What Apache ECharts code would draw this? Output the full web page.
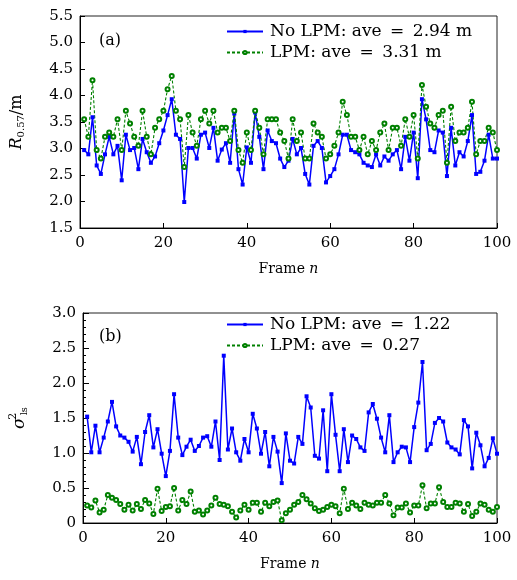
<!DOCTYPE html>
<html>
<head>
<meta charset="utf-8">
<script src="https://cdn.jsdelivr.net/npm/echarts@6/dist/echarts.min.js"></script>
<style>
  html, body { margin: 0; padding: 0; background: #fff; }
  #main { width: 517px; height: 580px; }
</style>
</head>
<body>
<div id="main"></div>
<script>
var chartDom = document.getElementById('main');
var myChart = echarts.init(chartDom);
var option;

// frame index n = 1..100
var frames = [];
for (var k = 1; k <= 100; k++) frames.push(k);

// panel (a): R_0.57 in metres
var noLpmR = [2.97, 2.89, 3.59, 2.68, 2.52, 2.89, 3.22, 2.89, 3.05, 2.40,
    3.26, 2.97, 3.01, 2.61, 3.18, 2.93, 2.73, 2.85, 3.10, 3.34,
    3.63, 3.93, 3.26, 3.18, 1.99, 3.01, 3.01, 2.81, 3.26, 3.30,
    3.01, 3.39, 2.77, 2.98, 3.10, 2.73, 3.66, 2.61, 2.32, 3.02,
    2.73, 3.68, 3.22, 2.61, 3.34, 3.14, 3.10, 2.81, 2.65, 2.77,
    3.18, 2.89, 3.01, 2.52, 2.32, 3.05, 3.14, 3.01, 2.36, 2.48,
    2.61, 2.89, 3.26, 3.26, 2.97, 2.93, 2.89, 2.73, 2.68, 2.65,
    2.89, 2.68, 2.85, 2.77, 2.89, 2.97, 2.61, 3.22, 2.77, 3.30,
    2.44, 3.93, 3.55, 2.97, 2.93, 3.34, 3.30, 2.48, 3.39, 2.68,
    2.93, 2.85, 3.14, 3.63, 2.52, 2.56, 2.77, 3.26, 2.81, 2.81];

var lpmR = [3.55, 3.22, 4.29, 2.97, 2.81, 3.22, 3.30, 3.22, 3.55, 2.97,
    3.71, 3.47, 3.22, 3.05, 3.71, 3.22, 2.89, 3.39, 3.55, 3.71,
    4.12, 4.37, 3.71, 3.55, 2.65, 3.63, 3.30, 3.05, 3.55, 3.71,
    3.47, 3.71, 3.30, 3.39, 3.39, 3.14, 3.71, 2.97, 2.73, 3.30,
    2.97, 3.71, 3.39, 2.89, 3.55, 3.55, 3.55, 3.30, 3.14, 2.81,
    3.55, 3.14, 3.30, 2.81, 2.81, 3.47, 3.30, 3.22, 2.81, 2.89,
    3.05, 3.30, 3.88, 3.63, 3.22, 3.22, 2.97, 3.22, 2.89, 3.14,
    2.97, 3.30, 3.47, 2.97, 3.39, 3.39, 3.05, 3.55, 3.22, 3.63,
    2.81, 4.20, 3.79, 3.47, 3.39, 3.63, 3.71, 2.73, 3.79, 3.14,
    3.30, 3.30, 3.39, 3.88, 2.89, 3.14, 3.14, 3.39, 3.30, 2.97];

// panel (b): sigma^2_ls
var noLpmS = [1.52, 1.01, 1.39, 1.01, 1.22, 1.45, 1.73, 1.38, 1.25, 1.22,
    1.16, 1.02, 1.23, 0.84, 1.30, 1.54, 1.08, 1.34, 0.99, 0.67,
    1.03, 1.84, 1.22, 0.97, 1.09, 1.19, 1.03, 1.10, 1.22, 1.24,
    1.09, 1.45, 0.90, 2.39, 1.05, 1.35, 1.01, 0.89, 1.20, 1.01,
    1.56, 1.35, 0.99, 1.30, 0.81, 1.23, 1.02, 0.57, 1.28, 0.89,
    0.85, 1.23, 1.13, 1.81, 1.65, 0.96, 0.92, 1.61, 0.74, 1.84,
    1.26, 0.74, 1.34, 0.87, 1.25, 1.20, 1.08, 1.03, 1.58, 1.70,
    1.49, 1.22, 1.01, 1.54, 0.87, 1.01, 1.09, 1.08, 0.87, 1.37,
    1.72, 2.30, 1.04, 1.13, 1.43, 1.50, 1.45, 1.15, 1.08, 1.05,
    0.98, 1.47, 1.38, 0.78, 1.29, 1.11, 0.81, 0.93, 1.21, 0.99];

var lpmS = [0.25, 0.22, 0.32, 0.15, 0.19, 0.40, 0.36, 0.33, 0.27, 0.19,
    0.26, 0.18, 0.27, 0.20, 0.33, 0.28, 0.13, 0.49, 0.17, 0.23,
    0.24, 0.50, 0.18, 0.33, 0.27, 0.45, 0.16, 0.18, 0.12, 0.18,
    0.25, 0.36, 0.27, 0.26, 0.24, 0.16, 0.08, 0.18, 0.26, 0.19,
    0.29, 0.29, 0.16, 0.29, 0.24, 0.30, 0.32, 0.04, 0.14, 0.19,
    0.26, 0.30, 0.40, 0.34, 0.28, 0.21, 0.17, 0.19, 0.23, 0.26,
    0.24, 0.14, 0.49, 0.20, 0.29, 0.25, 0.20, 0.29, 0.26, 0.25,
    0.29, 0.29, 0.40, 0.28, 0.11, 0.22, 0.22, 0.28, 0.15, 0.25,
    0.25, 0.54, 0.21, 0.28, 0.28, 0.51, 0.30, 0.23, 0.23, 0.29,
    0.28, 0.16, 0.27, 0.10, 0.16, 0.28, 0.26, 0.19, 0.16, 0.23];

var names = ['No LPM: ave\u2002=\u20022.94 m', 'LPM: ave\u2002=\u20023.31 m',
             'No LPM: ave\u2002=\u20021.22', 'LPM: ave\u2002=\u20020.27'];

var FONT = 'DejaVu Serif';
var BLUE = '#0000ff';
var GREEN = '#008000';

function pairs(vals) {
    return frames.map(function (n, i) { return [n, vals[i]]; });
}

function xAxisFor(idx) {
    return {
        type: 'value', gridIndex: idx, min: 0, max: 100, interval: 20,
        name: '{r|Frame }{i|n}', nameLocation: 'middle', nameGap: 34,
        nameTextStyle: {
            rich: {
                r: { fontFamily: FONT, fontSize: 14, color: '#000' },
                i: { fontFamily: FONT, fontSize: 14, fontStyle: 'italic', color: '#000' }
            }
        },
        axisLine: { onZero: false, lineStyle: { color: '#000', width: 1 } },
        axisTick: { inside: true, length: 5, lineStyle: { color: '#000' } },
        axisLabel: { fontFamily: FONT, fontSize: 15, color: '#000', margin: 8 },
        splitLine: { show: false }
    };
}

function yLabel(v) {
    return v === 0 ? '0' : v.toFixed(1);
}

function seriesFor(name, vals, idx, lpm) {
    return {
        type: 'line', name: name, xAxisIndex: idx, yAxisIndex: idx,
        data: pairs(vals),
        symbol: lpm ? 'emptyCircle' : 'rect',
        symbolSize: 4,
        showAllSymbol: true,
        animation: false,
        lineStyle: lpm ? { color: GREEN, width: 1.1, type: [3, 2] } : { color: BLUE, width: 1.5 },
        itemStyle: lpm ? { color: GREEN, borderColor: GREEN, borderWidth: 0.9 } : { color: BLUE }
    };
}

function legendFor(top, data) {
    return {
        orient: 'vertical', left: 226, top: top, itemGap: 4, padding: 0,
        itemWidth: 36, itemHeight: 4,
        data: data,
        textStyle: { fontFamily: FONT, fontSize: 17, color: '#000', padding: [0, 0, 0, 2] },
        selectedMode: false
    };
}

option = {
    backgroundColor: '#fff',
    grid: [
        { left: 80, top: 16, width: 417, height: 212, show: true, borderColor: '#222', borderWidth: 1, backgroundColor: 'transparent' },
        { left: 80, top: 313, width: 417, height: 210, show: true, borderColor: '#222', borderWidth: 1, backgroundColor: 'transparent' }
    ],
    legend: [legendFor(23, [names[0], names[1]]), legendFor(316, [names[2], names[3]])],
    xAxis: [xAxisFor(0), xAxisFor(1)],
    yAxis: [
        {
            type: 'value', gridIndex: 0, min: 1.5, max: 5.5, interval: 0.5,
            name: '{i|R}{s|0.57}{r|/m}', nameLocation: 'middle', nameGap: 54, nameRotate: 90,
            nameTextStyle: {
                rich: {
                    i: { fontFamily: FONT, fontSize: 16, fontStyle: 'italic', color: '#000' },
                    s: { fontFamily: FONT, fontSize: 10, color: '#000', padding: [8, 0, 0, 0] },
                    r: { fontFamily: FONT, fontSize: 16, color: '#000' }
                }
            },
            axisLine: { show: true, lineStyle: { color: '#000' } },
            axisTick: { inside: true, length: 5, lineStyle: { color: '#000' } },
            axisLabel: { fontFamily: FONT, fontSize: 15, color: '#000', margin: 7, formatter: yLabel },
            splitLine: { show: false }
        },
        {
            type: 'value', gridIndex: 1, min: 0, max: 3, interval: 0.5,
            name: '{i|σ}{p|2}{s|ls}', nameLocation: 'middle', nameGap: 52, nameRotate: 90,
            nameTextStyle: {
                rich: {
                    i: { fontFamily: FONT, fontSize: 17, fontStyle: 'italic', color: '#000' },
                    p: { fontFamily: FONT, fontSize: 11, color: '#000', width: 0, padding: [0, 0, 12, 1] },
                    s: { fontFamily: FONT, fontSize: 10, color: '#000', padding: [9, 0, 0, 1] }
                }
            },
            axisLine: { show: true, lineStyle: { color: '#000' } },
            axisTick: { inside: true, length: 6, lineStyle: { color: '#000' } },
            minorTick: { show: true, splitNumber: 5, length: 3, lineStyle: { color: '#000' } },
            axisLabel: { fontFamily: FONT, fontSize: 15, color: '#000', margin: 7, formatter: yLabel },
            splitLine: { show: false }
        }
    ],
    graphic: [
        { type: 'text', left: 99, top: 33, style: { text: '(a)', font: '16px "DejaVu Serif"', fill: '#000' } },
        { type: 'text', left: 99, top: 329, style: { text: '(b)', font: '16px "DejaVu Serif"', fill: '#000' } }
    ],
    series: [
        seriesFor(names[0], noLpmR, 0, false),
        seriesFor(names[1], lpmR, 0, true),
        seriesFor(names[2], noLpmS, 1, false),
        seriesFor(names[3], lpmS, 1, true)
    ]
};

option && myChart.setOption(option);
</script>
</body>
</html>
